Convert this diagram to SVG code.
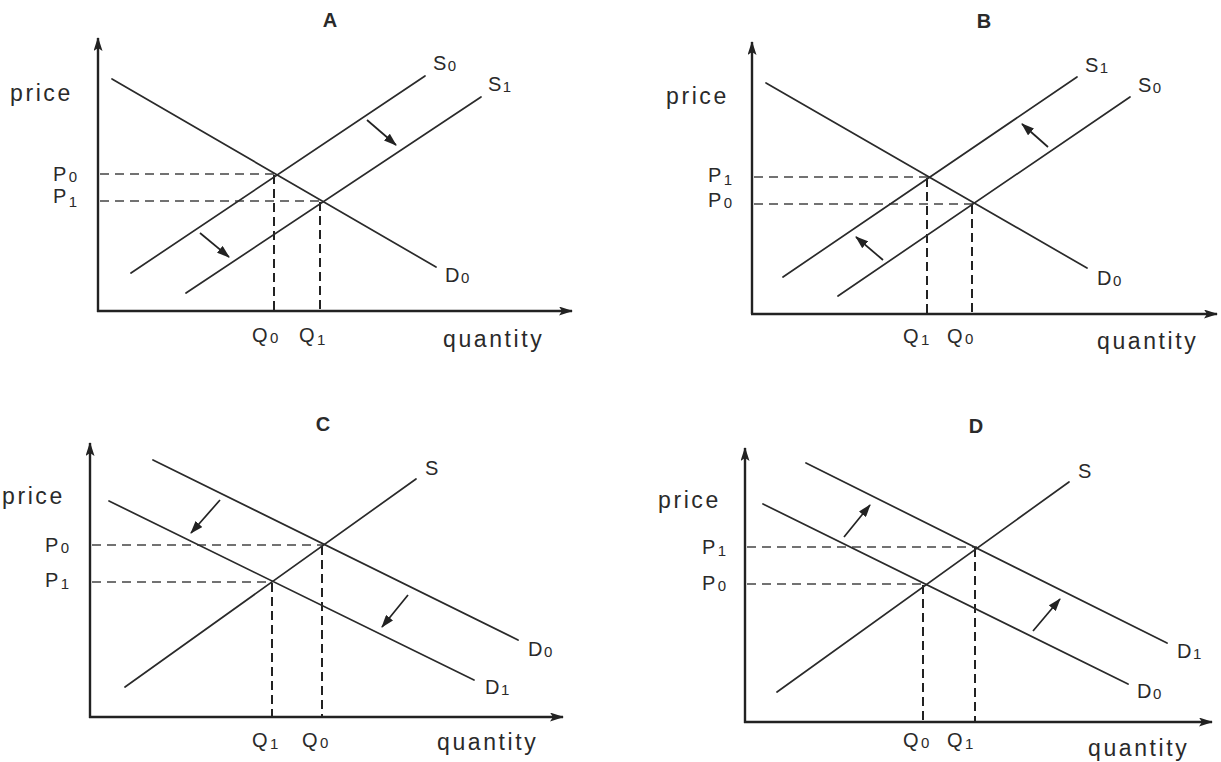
<svg xmlns="http://www.w3.org/2000/svg" width="1221" height="762" viewBox="0 0 1221 762">
<style>
.bg{fill:#fff}
.ax{stroke:#222;stroke-width:2.4;fill:none}
.cv{stroke:#2a2a2a;stroke-width:1.7;fill:none;stroke-linecap:round}
.gd{stroke:#444;stroke-width:1.3;fill:none;stroke-dasharray:9 6}
.vd{stroke:#222;stroke-width:2;fill:none;stroke-dasharray:9 5}
.sh{stroke:#222;stroke-width:1.7;fill:none}
.t{font-family:"Liberation Sans",Arial,sans-serif;fill:#2a2a2a}
.w{font-size:23px;letter-spacing:2.6px}
.l{font-size:20px;letter-spacing:0.5px}
.s{font-size:15px}
.h{font-size:20px;font-weight:bold;text-anchor:middle}
</style>
<defs>
<marker id="axh" viewBox="0 0 14 9" refX="13" refY="4.5" markerWidth="14" markerHeight="9" markerUnits="userSpaceOnUse" orient="auto"><path d="M0,0 L14,4.5 L0,9 L3,4.5 z" fill="#222"/></marker>
<marker id="shh" viewBox="0 0 13 9" refX="12" refY="4.5" markerWidth="13" markerHeight="9" markerUnits="userSpaceOnUse" orient="auto"><path d="M0,0 L13,4.5 L0,9 z" fill="#222"/></marker>
</defs>
<rect class="bg" x="0" y="0" width="1221" height="762"/>

<g id="panel-A">
  <text class="t h" x="330" y="27">A</text>
  <g id="A-axes">
    <line class="ax" x1="98" y1="312" x2="98" y2="38" marker-end="url(#axh)"/>
    <line class="ax" x1="97" y1="311" x2="572" y2="311" marker-end="url(#axh)"/>
  </g>
  <g id="A-guides">
    <line class="gd" x1="100" y1="174" x2="275" y2="174"/>
    <line class="gd" x1="100" y1="201" x2="320" y2="201"/>
    <line class="vd" x1="274" y1="175" x2="274" y2="310"/>
    <line class="vd" x1="320" y1="202" x2="320" y2="310"/>
  </g>
  <g id="A-curves">
    <line class="cv" x1="112" y1="79" x2="436" y2="267"/>
    <line class="cv" x1="131" y1="273" x2="425" y2="76"/>
    <line class="cv" x1="186" y1="293" x2="481" y2="97"/>
  </g>
  <g id="A-shifts">
    <line class="sh" x1="367" y1="120" x2="396" y2="145" marker-end="url(#shh)"/>
    <line class="sh" x1="200" y1="233" x2="229" y2="257" marker-end="url(#shh)"/>
  </g>
  <g id="A-labels">
    <text class="t w" x="10" y="101">price</text>
    <text class="t w" x="443" y="347">quantity</text>
    <text class="t l" x="53" y="181">P<tspan class="s" dx="2" dy="1">0</tspan></text>
    <text class="t l" x="53" y="203">P<tspan class="s" dx="2" dy="4">1</tspan></text>
    <text class="t l" x="252" y="342">Q<tspan class="s" dx="2" dy="1">0</tspan></text>
    <text class="t l" x="299" y="342">Q<tspan class="s" dx="2" dy="3">1</tspan></text>
    <text class="t l" x="433" y="70">S<tspan class="s" dx="1" dy="1">0</tspan></text>
    <text class="t l" x="488" y="91">S<tspan class="s" dx="1" dy="1">1</tspan></text>
    <text class="t l" x="445" y="282">D<tspan class="s" dx="1" dy="1">0</tspan></text>
  </g>
</g>

<g id="panel-B">
  <text class="t h" x="984" y="28">B</text>
  <g id="B-axes">
    <line class="ax" x1="752" y1="314" x2="752" y2="42" marker-end="url(#axh)"/>
    <line class="ax" x1="751" y1="314" x2="1217" y2="314" marker-end="url(#axh)"/>
  </g>
  <g id="B-guides">
    <line class="gd" x1="754" y1="177" x2="928" y2="177"/>
    <line class="gd" x1="754" y1="204" x2="973" y2="204"/>
    <line class="vd" x1="927" y1="178" x2="927" y2="313"/>
    <line class="vd" x1="972" y1="205" x2="972" y2="313"/>
  </g>
  <g id="B-curves">
    <line class="cv" x1="766" y1="83" x2="1087" y2="268"/>
    <line class="cv" x1="783" y1="277" x2="1077" y2="77"/>
    <line class="cv" x1="838" y1="296" x2="1130" y2="97"/>
  </g>
  <g id="B-shifts">
    <line class="sh" x1="1048" y1="147" x2="1022" y2="124" marker-end="url(#shh)"/>
    <line class="sh" x1="883" y1="260" x2="856" y2="237" marker-end="url(#shh)"/>
  </g>
  <g id="B-labels">
    <text class="t w" x="666" y="104">price</text>
    <text class="t w" x="1097" y="349">quantity</text>
    <text class="t l" x="708" y="182">P<tspan class="s" dx="2" dy="3">1</tspan></text>
    <text class="t l" x="708" y="207">P<tspan class="s" dx="2" dy="1">0</tspan></text>
    <text class="t l" x="903" y="343">Q<tspan class="s" dx="2" dy="2">1</tspan></text>
    <text class="t l" x="947" y="343">Q<tspan class="s" dx="2" dy="1">0</tspan></text>
    <text class="t l" x="1085" y="72">S<tspan class="s" dx="1" dy="1">1</tspan></text>
    <text class="t l" x="1138" y="92">S<tspan class="s" dx="1" dy="1">0</tspan></text>
    <text class="t l" x="1097" y="285">D<tspan class="s" dx="1" dy="1">0</tspan></text>
  </g>
</g>

<g id="panel-C">
  <text class="t h" x="323" y="431">C</text>
  <g id="C-axes">
    <line class="ax" x1="90" y1="718" x2="90" y2="443" marker-end="url(#axh)"/>
    <line class="ax" x1="89" y1="717" x2="563" y2="717" marker-end="url(#axh)"/>
  </g>
  <g id="C-guides">
    <line class="gd" x1="92" y1="545" x2="323" y2="545"/>
    <line class="gd" x1="92" y1="582" x2="272" y2="582"/>
    <line class="vd" x1="322" y1="546" x2="322" y2="716"/>
    <line class="vd" x1="272" y1="583" x2="272" y2="716"/>
  </g>
  <g id="C-curves">
    <line class="cv" x1="153" y1="460" x2="518" y2="640"/>
    <line class="cv" x1="109" y1="501" x2="474" y2="680"/>
    <line class="cv" x1="125" y1="687" x2="416" y2="479"/>
  </g>
  <g id="C-shifts">
    <line class="sh" x1="220" y1="500" x2="191" y2="533" marker-end="url(#shh)"/>
    <line class="sh" x1="408" y1="595" x2="382" y2="627" marker-end="url(#shh)"/>
  </g>
  <g id="C-labels">
    <text class="t w" x="2" y="504">price</text>
    <text class="t w" x="437" y="750">quantity</text>
    <text class="t l" x="45" y="552">P<tspan class="s" dx="2" dy="1">0</tspan></text>
    <text class="t l" x="45" y="587">P<tspan class="s" dx="2" dy="2">1</tspan></text>
    <text class="t l" x="252" y="747">Q<tspan class="s" dx="2" dy="2">1</tspan></text>
    <text class="t l" x="302" y="747">Q<tspan class="s" dx="2" dy="1">0</tspan></text>
    <text class="t l" x="425" y="475">S</text>
    <text class="t l" x="528" y="656">D<tspan class="s" dx="1" dy="1">0</tspan></text>
    <text class="t l" x="485" y="694">D<tspan class="s" dx="1" dy="1">1</tspan></text>
  </g>
</g>

<g id="panel-D">
  <text class="t h" x="976" y="433">D</text>
  <g id="D-axes">
    <line class="ax" x1="745" y1="723" x2="745" y2="448" marker-end="url(#axh)"/>
    <line class="ax" x1="744" y1="722" x2="1212" y2="722" marker-end="url(#axh)"/>
  </g>
  <g id="D-guides">
    <line class="gd" x1="747" y1="547" x2="977" y2="547"/>
    <line class="gd" x1="747" y1="584" x2="924" y2="584"/>
    <line class="vd" x1="923" y1="585" x2="923" y2="721"/>
    <line class="vd" x1="975" y1="548" x2="975" y2="721"/>
  </g>
  <g id="D-curves">
    <line class="cv" x1="806" y1="463" x2="1167" y2="643"/>
    <line class="cv" x1="763" y1="504" x2="1128" y2="684"/>
    <line class="cv" x1="777" y1="692" x2="1069" y2="482"/>
  </g>
  <g id="D-shifts">
    <line class="sh" x1="844" y1="537" x2="870" y2="505" marker-end="url(#shh)"/>
    <line class="sh" x1="1033" y1="631" x2="1060" y2="599" marker-end="url(#shh)"/>
  </g>
  <g id="D-labels">
    <text class="t w" x="658" y="508">price</text>
    <text class="t w" x="1088" y="756">quantity</text>
    <text class="t l" x="702" y="554">P<tspan class="s" dx="2" dy="2">1</tspan></text>
    <text class="t l" x="702" y="590">P<tspan class="s" dx="2" dy="1">0</tspan></text>
    <text class="t l" x="903" y="747">Q<tspan class="s" dx="2" dy="1">0</tspan></text>
    <text class="t l" x="947" y="747">Q<tspan class="s" dx="2" dy="2">1</tspan></text>
    <text class="t l" x="1078" y="478">S</text>
    <text class="t l" x="1177" y="658">D<tspan class="s" dx="1" dy="1">1</tspan></text>
    <text class="t l" x="1137" y="698">D<tspan class="s" dx="1" dy="1">0</tspan></text>
  </g>
</g>
</svg>
